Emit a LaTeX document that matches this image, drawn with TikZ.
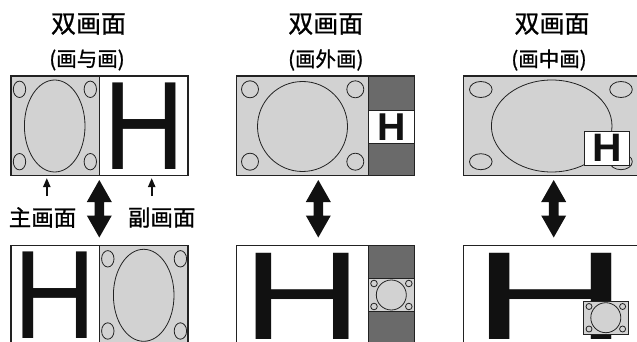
\documentclass[tikz,border=0pt]{standalone}
\usepackage{fontspec}
\setmainfont{Liberation Sans}
\newfontfamily\cjk[FakeBold=0.9]{Noto Sans CJK SC}
\usetikzlibrary{arrows.meta}
\definecolor{scr}{HTML}{D2D2D2}
\definecolor{stripc}{HTML}{6A6A6A}
\definecolor{inkc}{HTML}{111111}
\definecolor{edgec}{HTML}{222222}
\newcommand{\Hreg}[2]{\resizebox{#1pt}{#2pt}{H}}
\newcommand{\Hbld}[2]{\resizebox{#1pt}{#2pt}{\bfseries H}}
\newcommand{\swaparrow}[2]{%
  \fill[inkc] (#1,180) -- ++(12.5,22) -- ++(-7.7,0) -- ++(0,13.5) -- ++(7.7,0)
    -- (#1,237.5) -- ++(-12.5,-22) -- ++(7.7,0) -- ++(0,-13.5) -- ++(-7.7,0) -- cycle;
  \coordinate (#2) at (#1,209);}
\begin{document}
\begin{tikzpicture}[x=1pt,y=-1pt,
  frame/.style={draw=edgec, line width=1.2pt},
  circ/.style={draw=edgec, line width=0.8pt},
  glyph/.style={inner sep=0pt, outer sep=0pt, anchor=base, text=inkc, font=\fontsize{20}{20}\selectfont},
  ttl/.style={font=\cjk\fontsize{25}{25}\selectfont, inner sep=0pt},
  subttl/.style={font=\cjk\fontsize{20.5}{20.5}\selectfont, inner sep=0pt},
  lbl/.style={font=\cjk\fontsize{22.5}{22.5}\selectfont, inner sep=0pt},
  pointer/.style={draw=inkc, line width=2pt, -{Triangle[length=9pt,width=7pt]}}
]
\clip (0,0) rectangle (637,342);
\fill[white] (0,0) rectangle (637,342);

% ---------- titles ----------
\node[ttl] (t1) at (88.5,24) {双画面};
\node[subttl] (s1) at (87,60) {(画与画)};
\node[ttl] (t2) at (325.8,24) {双画面};
\node[subttl] (s2) at (325.8,60) {(画外画)};
\node[ttl] (t3) at (552,24) {双画面};
\node[subttl] (s3) at (549,60) {(画中画)};

% ---------- panel 1 top ----------
\fill[scr] (11,76) rectangle (99.5,175.7);
\draw[circ] (54.7,126) ellipse [x radius=30.3, y radius=46];
\foreach \p in {(19.5,89.3),(90.3,89.3),(19.5,161.7),(90.3,161.7)}
  \draw[circ] \p ellipse [x radius=6.2, y radius=8.2];
\node[glyph] (h1) at (144,169.3) {\Hreg{81.6}{86.6}};
\draw[frame] (11,76) rectangle (188,175.7);
\draw[frame] (99.5,76) -- (99.5,175.7);

% ---------- panel 1 bottom ----------
\fill[scr] (99.5,245.5) rectangle (188,350);
\draw[circ] (143.7,295.3) ellipse [x radius=30.3, y radius=46];
\foreach \p in {(107.8,258.8),(180.4,258.8),(107.8,331),(180.4,331)}
  \draw[circ] \p ellipse [x radius=6.2, y radius=8.2];
\node[glyph] (h2) at (55,338.3) {\Hreg{83}{86.6}};
\draw[frame] (11,245.5) rectangle (188,350);
\draw[frame] (99.5,245.5) -- (99.5,350);

% labels and pointers
\node[lbl] (mainl) at (42.5,217.5) {主画面};
\node[lbl] (subl) at (161.7,217.5) {副画面};
\coordinate (pa) at (46.8,196);
\coordinate (pb) at (151.7,196);
\coordinate (pa2) at (46.8,178);
\coordinate (pb2) at (151.7,178);
\draw[pointer] (pa) -- (pa2);
\draw[pointer] (pb) -- (pb2);
\swaparrow{99.3}{sw1}

% ---------- panel 2 top ----------
\fill[scr] (236.7,76) rectangle (368.3,175.7);
\fill[stripc] (368.3,76) rectangle (414.3,175.7);
\draw[circ] (302.5,126.5) circle [radius=45];
\foreach \p in {(250,89.3),(355.3,89.3),(250,161.7),(355.3,161.7)}
  \draw[circ] \p circle [radius=8.5];
\draw[fill=white, draw=edgec, line width=0.8pt] (368.3,110) rectangle (414.3,143.3);
\node[glyph] (h3) at (391.3,140) {\Hbld{28.4}{26.7}};
\draw[frame] (236.7,76) rectangle (414.3,175.7);
\draw[frame] (368.3,76) -- (368.3,175.7);

\swaparrow{318.3}{sw2}

% ---------- panel 2 bottom ----------
\fill[stripc] (368.3,245.5) rectangle (414.3,350);
\draw[fill=scr, draw=edgec, line width=0.8pt] (368.3,278.3) rectangle (414.3,311.7);
\draw[circ] (391.3,295) circle [radius=15];
\foreach \p in {(374,283.5),(408.8,283.5),(374,306.5),(408.8,306.5)}
  \draw[circ] \p circle [radius=3.3];
\node[glyph] (h4) at (302.3,339.5) {\Hreg{120}{86.2}};
\draw[frame] (236.7,245.5) rectangle (414.3,350);
\draw[frame] (368.3,245.5) -- (368.3,350);

% ---------- panel 3 top ----------
\fill[scr] (463.7,76) rectangle (650,175.7);
\draw[circ] (551.7,126) ellipse [x radius=60.3, y radius=46];
\foreach \p in {(480.8,89.5),(621,89.5),(480.8,161.7),(621,161.7)}
  \draw[circ] \p ellipse [x radius=11.3, y radius=8];
\draw[fill=white, draw=edgec, line width=0.8pt] (584.5,131) rectangle (629.7,165);
\node[glyph] (h5) at (607.5,161.7) {\Hbld{29.5}{27.3}};
\draw[frame] (463.7,76) rectangle (650,175.7);

\swaparrow{553.7}{sw3}

% ---------- panel 3 bottom ----------
\node[glyph] (h6) at (550.3,339.5) {\Hreg{158}{86.2}};
\draw[fill=scr, draw=edgec, line width=0.8pt] (583.3,301) rectangle (628.3,334.3);
\draw[circ] (605.8,317.7) circle [radius=15];
\foreach \p in {(589,306.5),(622.6,306.5),(589,329),(622.6,329)}
  \draw[circ] \p circle [radius=3];
\draw[frame] (463.7,245.5) rectangle (650,350);
\end{tikzpicture}
\end{document}
